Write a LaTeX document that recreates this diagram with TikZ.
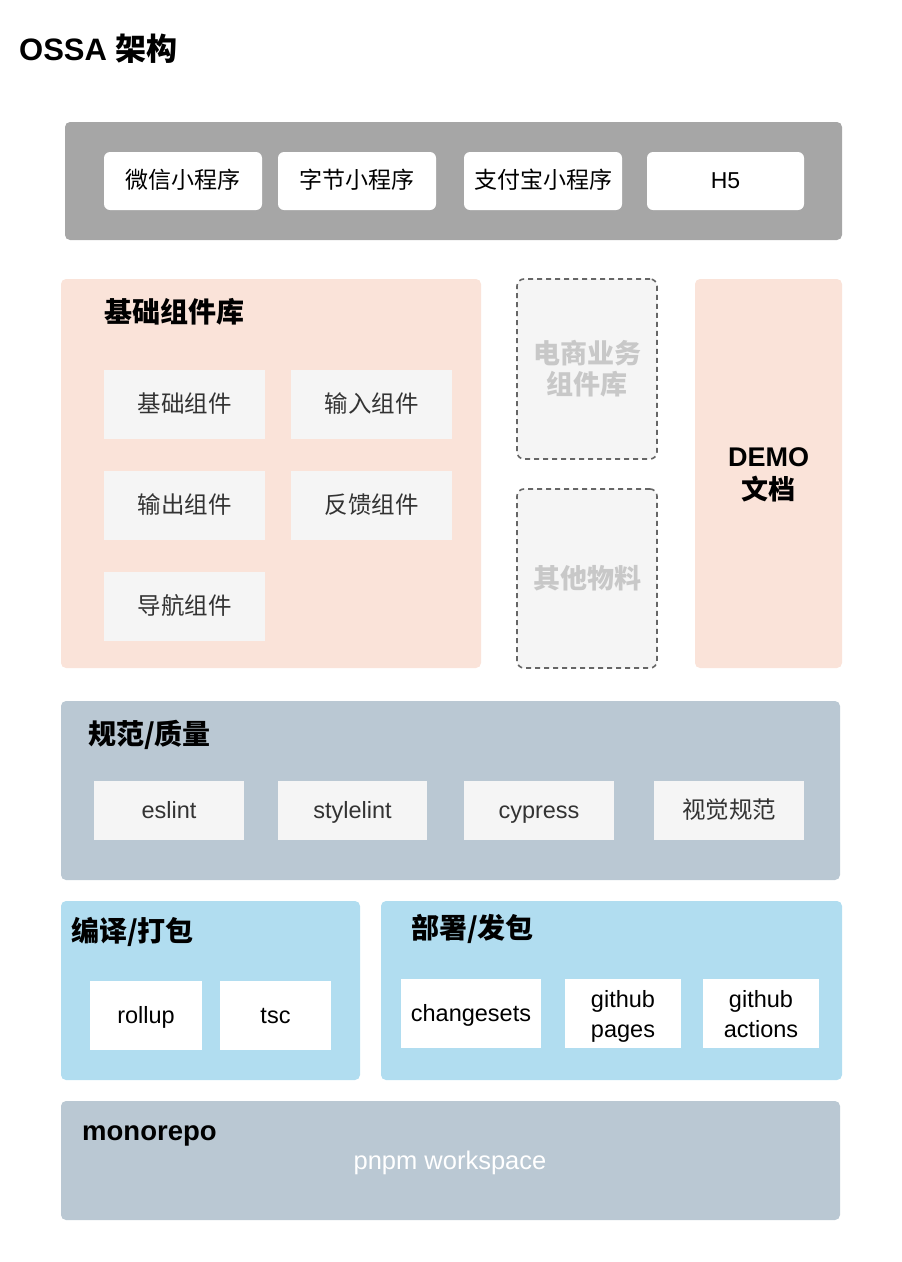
\documentclass[tikz,border=0pt]{standalone}
\usepackage{fontspec}
\setmainfont{Liberation Sans}
\newfontfamily\cjk{Noto Sans CJK SC}
\definecolor{topgray}{HTML}{A6A6A6}
\definecolor{peach}{HTML}{FAE3D9}
\definecolor{boxgray}{HTML}{F5F5F5}
\definecolor{bluegray}{HTML}{BAC8D3}
\definecolor{skyblue}{HTML}{B1DDF0}
\definecolor{dashgray}{HTML}{666666}
\definecolor{faded}{HTML}{C8C8C8}
\definecolor{darktext}{HTML}{333333}
\tikzset{
  panel/.style={rounded corners=5pt, inner sep=0pt, draw=none},
  pill/.style={fill=white, rounded corners=6pt, inner sep=0pt, text=black,
    minimum width=158pt, minimum height=58pt, text height=20pt, text depth=5pt,
    font=\fontsize{23}{28}\selectfont},
  item/.style={fill=boxgray, inner sep=0pt, text=darktext, align=center,
    text height=20pt, text depth=5pt, font=\fontsize{23.5}{30}\selectfont},
  witem/.style={fill=white, inner sep=0pt, text=black, align=center,
    text height=20pt, text depth=5pt, font=\fontsize{23.5}{30}\selectfont},
  witemtwo/.style={fill=white, inner sep=0pt, text=black, align=center,
    font=\fontsize{23.5}{30}\selectfont},
  head/.style={anchor=west, inner sep=0pt, text=black,
    font=\fontsize{28}{32}\selectfont\bfseries},
  dashbox/.style={fill=boxgray, draw=dashgray, dash pattern=on 5pt off 4pt,
    line width=1.6pt, rounded corners=7pt, inner sep=0pt, text=faded,
    align=center, font=\fontsize{27}{31}\selectfont\bfseries\cjk},
}
\begin{document}
\begin{tikzpicture}[x=1pt,y=-1pt]
\useasboundingbox (0,0) rectangle (902,1262);
% title
\node[anchor=base west, inner sep=0pt, font=\fontsize{31}{36}\selectfont\bfseries] (title) at (19,60) {OSSA {\cjk 架构}};
% top platform panel
\node[panel, fill=topgray, minimum width=777pt, minimum height=118pt] (top) at (453.5,181) {};
\node[pill] (wx) at (183,181) {\cjk 微信小程序};
\node[pill] (zj) at (357,181) {\cjk 字节小程序};
\node[pill] (zfb) at (543,181) {\cjk 支付宝小程序};
\node[pill, minimum width=157pt] (h5) at (725.5,181) {H5};
% base components
\node[panel, fill=peach, minimum width=420pt, minimum height=389pt] (base) at (271,473.5) {};
\node[head] (baseh) at (104,312) {\cjk 基础组件库};
\node[item, minimum width=161pt, minimum height=69pt] (b1) at (184.5,404.5) {\cjk 基础组件};
\node[item, minimum width=161pt, minimum height=69pt] (b2) at (371.5,404.5) {\cjk 输入组件};
\node[item, minimum width=161pt, minimum height=69pt] (b3) at (184.5,505.5) {\cjk 输出组件};
\node[item, minimum width=161pt, minimum height=69pt] (b4) at (371.5,505.5) {\cjk 反馈组件};
\node[item, minimum width=161pt, minimum height=69pt] (b5) at (184.5,606.5) {\cjk 导航组件};
% dashed boxes
\node[dashbox, minimum width=140pt, minimum height=180pt] (ec) at (587,369) {电商业务\\组件库};
\node[dashbox, minimum width=140pt, minimum height=179pt] (other) at (587,578.5) {其他物料};
% demo
\node[panel, fill=peach, minimum width=147pt, minimum height=389pt, align=center,
  text depth=-3pt, font=\fontsize{27}{33}\selectfont\bfseries] (demo) at (768.5,473.5) {DEMO\\{\cjk 文档}};
% quality
\node[panel, fill=bluegray, minimum width=779pt, minimum height=179pt] (qual) at (450.5,790.5) {};
\node[head] (qualh) at (88,735) {\cjk 规范/质量};
\node[item, minimum width=150pt, minimum height=59pt] (q1) at (169,810.5) {eslint};
\node[item, minimum width=149pt, minimum height=59pt] (q2) at (352.5,810.5) {stylelint};
\node[item, minimum width=150pt, minimum height=59pt] (q3) at (539,810.5) {cypress};
\node[item, minimum width=150pt, minimum height=59pt] (q4) at (729,810.5) {\cjk 视觉规范};
% build
\node[panel, fill=skyblue, minimum width=299pt, minimum height=179pt] (build) at (210.5,990.5) {};
\node[head] (buildh) at (71,932) {\cjk 编译/打包};
\node[witem, minimum width=112pt, minimum height=69pt] (rollup) at (146,1015.5) {rollup};
\node[witem, minimum width=111pt, minimum height=69pt] (tsc) at (275.5,1015.5) {tsc};
% deploy
\node[panel, fill=skyblue, minimum width=461pt, minimum height=179pt] (deploy) at (611.5,990.5) {};
\node[head] (deployh) at (411,929) {\cjk 部署/发包};
\node[witem, minimum width=140pt, minimum height=69pt] (cs) at (471,1013.5) {changesets};
\node[witemtwo, text depth=-1pt, minimum width=116pt, minimum height=69pt] (gp) at (623,1013.5) {github\\pages};
\node[witemtwo, text depth=-4pt, minimum width=116pt, minimum height=69pt] (ga) at (761,1013.5) {github\\actions};
% monorepo
\node[panel, fill=bluegray, minimum width=779pt, minimum height=119pt] (mono) at (450.5,1160.5) {};
\node[anchor=base west, inner sep=0pt, text=black, font=\fontsize{27.5}{32}\selectfont\bfseries] (monoh) at (82,1140) {monorepo};
\node[anchor=base, inner sep=0pt, text=white, font=\fontsize{25.5}{30}\selectfont] (pnpm) at (450,1169) {pnpm workspace};
\end{tikzpicture}
\end{document}
